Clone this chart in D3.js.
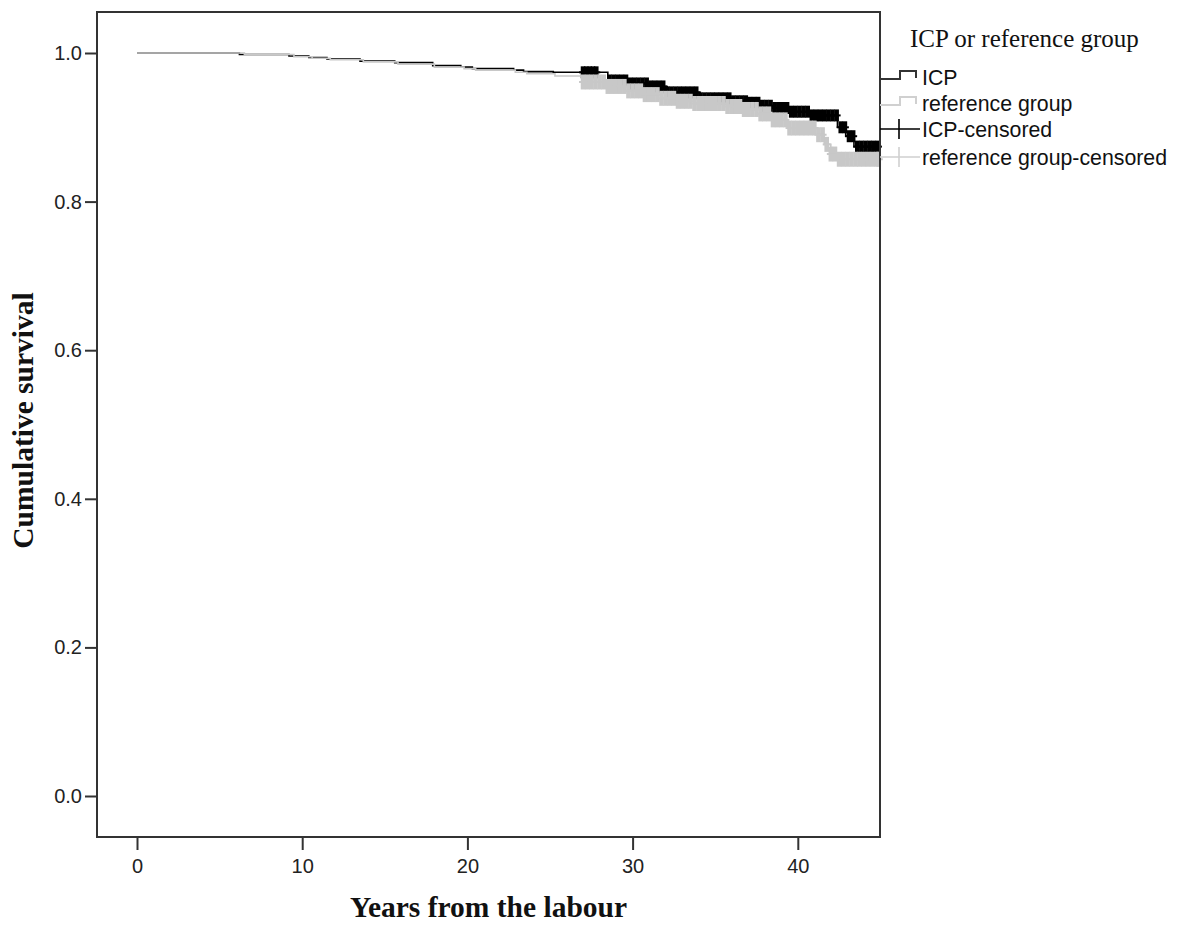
<!DOCTYPE html>
<html><head><meta charset="utf-8">
<script src="https://cdn.jsdelivr.net/npm/d3@7/dist/d3.min.js"></script>
<style>body{margin:0;background:#fff}svg{display:block}</style>
</head><body>
<svg id="c" width="1179" height="927"></svg>
<script>
// ---- data ----
const xTicks = [0, 10, 20, 30, 40];
const yTicks = [0.0, 0.2, 0.4, 0.6, 0.8, 1.0];
const seriesNames = ["ICP", "reference group"];
const legendLabels = ["ICP", "reference group", "ICP-censored", "reference group-censored"];

// Kaplan-Meier steps: time at which survival changes, survival after the step
const icpTimes = [0, 6.2, 9.2, 10.4, 11.5, 13.5, 15.6, 17.9, 19.6, 20.3, 22.8, 23.4, 25.2,
  28.5, 29.8, 31.0, 32.1, 34.1, 35.9, 36.9, 37.8, 38.5, 39.6, 40.7, 42.4, 42.9, 43.4, 45];
const icpSurv  = [1.000, 0.998, 0.996, 0.994, 0.992, 0.989, 0.987, 0.983, 0.981, 0.979, 0.977, 0.975, 0.974,
  0.963, 0.959, 0.955, 0.947, 0.939, 0.935, 0.933, 0.929, 0.926, 0.921, 0.916, 0.900, 0.888, 0.874, 0.874];

const refTimes = [0, 6.5, 9.5, 10.6, 11.7, 13.7, 15.8, 18.0, 19.8, 20.5, 22.9, 23.6, 25.3,
  27.0, 28.3, 29.7, 30.7, 31.7, 32.7, 33.7, 35.7, 36.7, 37.7, 38.5, 39.4, 41.2, 41.6, 42.0, 42.3, 45];
const refSurv  = [1.000, 0.998, 0.995, 0.993, 0.991, 0.988, 0.985, 0.981, 0.979, 0.977, 0.974, 0.972, 0.969,
  0.961, 0.955, 0.949, 0.944, 0.939, 0.935, 0.932, 0.928, 0.924, 0.918, 0.910, 0.899, 0.890, 0.877, 0.864, 0.857, 0.857];

// censored observation times
const icpCensored = [27.0, 27.2, 27.4, 27.6, 27.8,
  28.6, 28.85, 29.1, 29.35, 29.6, 29.85, 30.1, 30.35, 30.6, 30.85, 31.1, 31.35, 31.6, 31.85,
  32.1, 32.35, 32.6, 32.85, 33.1, 33.35, 33.6, 33.85, 34.1, 34.35, 34.6, 34.85, 35.1, 35.35,
  35.6, 35.85, 36.1, 36.35, 36.6, 36.85, 37.1, 37.35, 37.6, 37.85, 38.1, 38.35, 38.6, 38.85,
  39.1, 39.35, 39.6, 39.85, 40.1, 40.35, 40.6, 40.85, 41.1, 41.35, 41.6, 41.85, 42.1, 42.35,
  42.6, 42.85, 43.1, 43.35, 43.6, 43.85, 44.1, 44.35, 44.6, 44.85];
const refCensored = [27.0, 27.25, 27.5, 27.75, 28.0, 28.25, 28.5, 28.75, 29.0, 29.25, 29.5, 29.75,
  30.0, 30.25, 30.5, 30.75, 31.0, 31.25, 31.5, 31.75, 32.0, 32.25, 32.5, 32.75, 33.0, 33.25,
  33.5, 33.75, 34.0, 34.25, 34.5, 34.75, 35.0, 35.25, 35.5, 35.75, 36.0, 36.25, 36.5, 36.75,
  37.0, 37.25, 37.5, 37.75, 38.0, 38.25, 38.5, 38.75, 39.0, 39.25, 39.5, 39.75, 40.0, 40.25,
  40.5, 40.75, 41.0, 41.25, 41.5, 41.75, 42.0, 42.25, 42.5, 42.75, 43.0, 43.25, 43.5, 43.75,
  44.0, 44.25, 44.5, 44.75, 44.9];

const colors = {ICP: "#000000", ref: "#c8c8c8"};

// ---- drawing ----
const svg = d3.select("#c");
svg.append("rect").attr("width", 1179).attr("height", 927).attr("fill", "#fff");

const frame = {left: 97, right: 880, top: 12, bottom: 837};
const x = d3.scaleLinear().domain([0, 45]).range([137, 880.4]);
const y = d3.scaleLinear().domain([0, 1]).range([796, 53]);

const sans = "'Liberation Sans', Arial, sans-serif";
const serif = "'Liberation Serif', 'Times New Roman', serif";

const xAxis = d3.axisBottom(x).tickValues(xTicks).tickFormat(d3.format("d")).tickSize(13).tickPadding(9);
const yAxis = d3.axisLeft(y).tickValues(yTicks).tickFormat(d3.format(".1f")).tickSize(12).tickPadding(3);

const gx = svg.append("g").attr("transform", `translate(0,${frame.bottom})`).call(xAxis);
const gy = svg.append("g").attr("transform", `translate(${frame.left},0)`).call(yAxis);
[gx, gy].forEach(g => {
  g.select(".domain").remove();
  g.selectAll(".tick line").attr("stroke", "#333").attr("stroke-width", 2);
  g.selectAll(".tick text").attr("fill", "#222").style("font-family", sans).style("font-size", "20px");
});

function stepLine(times, surv) {
  const pts = times.map((t, i) => [t, surv[i]]);
  return d3.line().x(d => x(d[0])).y(d => y(d[1])).curve(d3.curveStepAfter)(pts);
}
function survAt(times, surv, t) {
  const i = d3.bisectRight(times, t) - 1;
  return surv[Math.max(0, i)];
}
function drawSeries(times, surv, cens, color, half) {
  const g = svg.append("g");
  g.append("path").attr("d", stepLine(times, surv)).attr("fill", "none")
    .attr("stroke", color).attr("stroke-width", 1.6);
  const m = g.selectAll("g.m").data(cens).join("g").attr("class", "m")
    .attr("transform", d => `translate(${x(d)},${y(survAt(times, surv, d))})`);
  m.append("line").attr("x1", 0).attr("x2", 0).attr("y1", -half).attr("y2", half)
    .attr("stroke", color).attr("stroke-width", 4.6);
  m.append("line").attr("x1", -4).attr("x2", 4).attr("y1", 0).attr("y2", 0)
    .attr("stroke", color).attr("stroke-width", 2);
}
drawSeries(icpTimes, icpSurv, icpCensored, colors.ICP, 6);
drawSeries(refTimes, refSurv, refCensored, colors.ref, 7.5);

// frame
svg.append("rect").attr("x", frame.left).attr("y", frame.top)
  .attr("width", frame.right - frame.left).attr("height", frame.bottom - frame.top)
  .attr("fill", "none").attr("stroke", "#333").attr("stroke-width", 2);

// axis titles
svg.append("text").attr("x", (frame.left + frame.right) / 2).attr("y", 917)
  .attr("text-anchor", "middle").style("font-family", serif).style("font-weight", "bold")
  .style("font-size", "29.5px").attr("fill", "#111").text("Years from the labour");
svg.append("text").attr("transform", `translate(33,${(frame.top + frame.bottom) / 2 - 4}) rotate(-90)`)
  .attr("text-anchor", "middle").style("font-family", serif).style("font-weight", "bold")
  .style("font-size", "29.5px").attr("fill", "#111").text("Cumulative survival");

// legend
const lg = svg.append("g");
lg.append("text").attr("x", 910).attr("y", 47).style("font-family", serif)
  .style("font-size", "25px").attr("fill", "#111").text("ICP or reference group");
const rowY = [85, 111, 137, 165];
legendLabels.forEach((lab, i) => {
  lg.append("text").attr("x", 922).attr("y", rowY[i]).style("font-family", sans)
    .style("font-size", "21.3px").attr("fill", "#111").text(lab);
});
const symCol = [colors.ICP, colors.ref, colors.ICP, colors.ref];
[0, 1].forEach(i => {
  const cy = rowY[i] - 6;
  lg.append("path").attr("d", `M880,${cy} H900 V${cy - 8} H916 V${cy - 1}`)
    .attr("fill", "none").attr("stroke", symCol[i] === colors.ICP ? "#333" : "#d0d0d0").attr("stroke-width", 2);
});
[2, 3].forEach(i => {
  const cy = rowY[i] - 8;
  lg.append("path").attr("d", `M880,${cy} H920 M899,${cy - 10} V${cy + 10}`)
    .attr("fill", "none").attr("stroke", symCol[i] === colors.ICP ? "#000" : "#d0d0d0").attr("stroke-width", 1.6);
});
</script>
</body></html>
